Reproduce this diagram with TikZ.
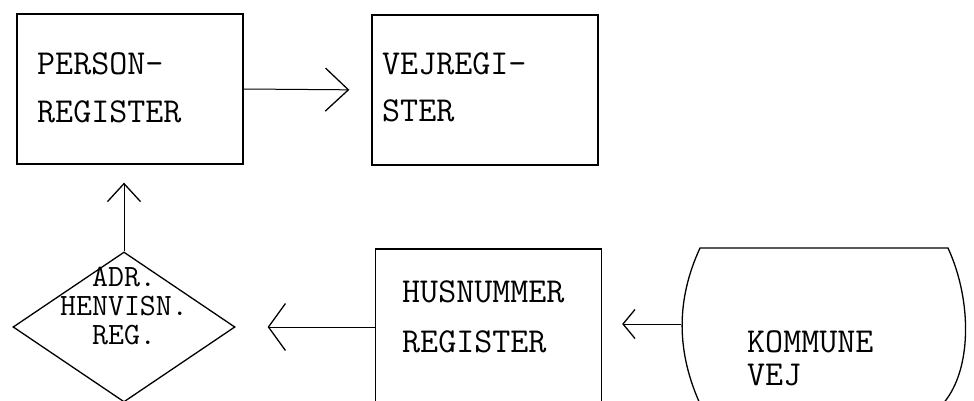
\documentclass[tikz,border=0pt]{standalone}
\usetikzlibrary{arrows.meta,shapes.geometric}
\begin{document}
\begin{tikzpicture}[x=1pt,y=-1pt,
  box/.style={draw, line width=1.3pt, rectangle, inner sep=0pt, minimum width=226pt, minimum height=150pt},
  lbl/.style={font=\ttfamily\fontsize{35}{35}\selectfont, anchor=base west, inner sep=0pt},
  clbl/.style={font=\ttfamily\fontsize{31}{29}\selectfont, align=center, inner sep=0pt},
  conn/.style 2 args={line width=1pt, -{Straight Barb[length=#1pt,width=#2pt,line width=1.3pt]}},
]
\useasboundingbox (0,0) rectangle (974,401);
\clip (0,0) rectangle (974,401);
% boxes
\node[box] (person) at (130,89) {};
\node[box] (vej) at (485,90) {};
\node[box, minimum height=170pt] (hus) at (488.5,334) {};
\node[draw, diamond, line width=1.3pt, inner sep=0pt, minimum width=222pt, minimum height=150pt] (adr) at (124,327) {};
% kommune drum
\draw[line width=1.3pt] (701,406) .. controls (676,352) and (676,300) .. (700,248) -- (948,248) .. controls (972,300) and (973,372) .. (941,406);
\coordinate (kom) at (681,324);
% connectors
\draw[conn={23}{43}, shorten >=22pt] (person.east) -- (vej.west);
\draw[conn={18}{33}, shorten >=18pt] (adr.north) -- (adr.north |- person.south);
\draw[conn={17}{47}, shorten >=32pt] (hus.west |- adr.east) -- (adr.east);
\draw[conn={12}{29}, shorten >=20pt] (kom) -- (kom -| hus.east);
% texts
\node[lbl] (p1) at (37,75) {PERSON-};
\node[lbl] (p2) at (37,123) {REGISTER};
\node[lbl] (v1) at (382,75) {VEJREGI-};
\node[lbl] (v2) at (382,122) {STER};
\node[lbl] (h1) at (402,302) {HUSNUMMER};
\node[lbl] (h2) at (402,352) {REGISTER};
\node[lbl] (k1) at (747,352) {KOMMUNE};
\node[lbl] (k2) at (747,385) {VEJ};
\node[clbl] (atext) at (124,305.5) {ADR.\\HENVISN.\\REG.};
\end{tikzpicture}
\end{document}
